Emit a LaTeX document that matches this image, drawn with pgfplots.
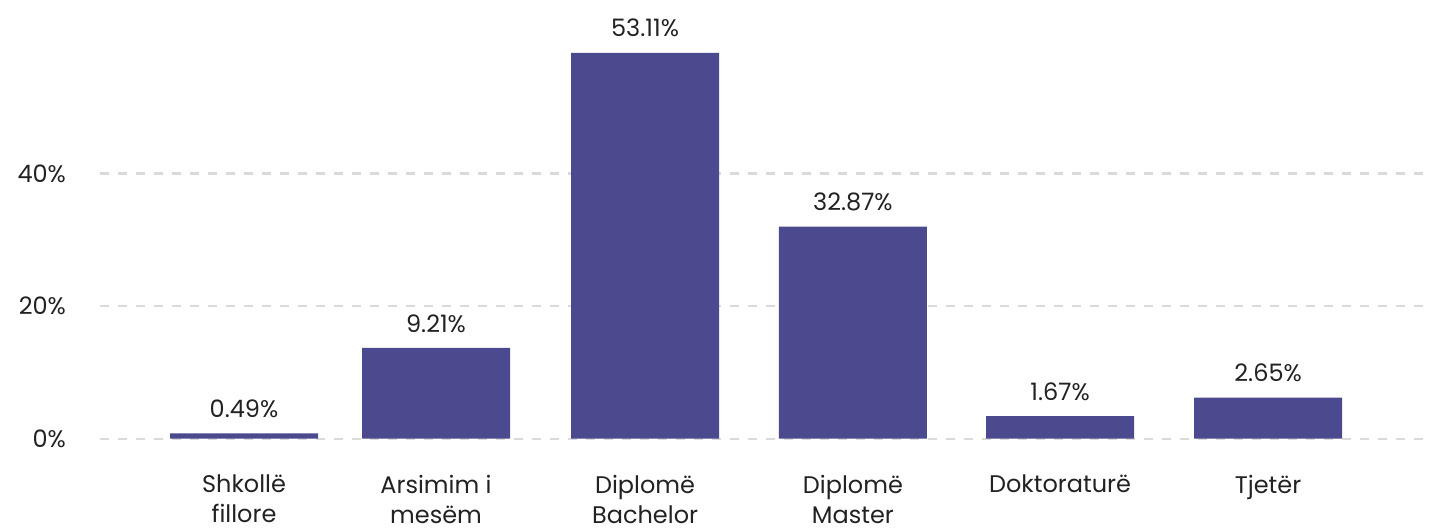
\documentclass[border=0pt]{standalone}
\usepackage{fontspec}
\setmainfont{Poppins}
\usepackage{pgfplots}
\pgfplotsset{compat=1.18}
\definecolor{barblue}{RGB}{75,74,143}
\definecolor{txt}{RGB}{34,34,34}
\definecolor{gridgray}{RGB}{218,218,218}

\begin{document}
\begin{tikzpicture}
\begin{axis}[
    scale only axis,
    width=1330pt, height=437.6pt,
    xmin=-0.693, xmax=5.707,
    ymin=0, ymax=66,
    axis line style={draw=none},
    clip=false,
    ybar, bar width=148pt,
    xtick=data,
    xticklabels={{Shkollë\\fillore},{Arsimim i\\mesëm},{Diplomë\\Bachelor},{Diplomë\\Master},{Doktoraturë},{Tjetër}},
    ytick={0,20,40},
    yticklabel={\pgfmathprintnumber{\tick}\%},
    /pgf/number format/assume math mode=true,
    ymajorgrids,
    grid style={gridgray, line width=2.2pt, dash pattern=on 9pt off 9pt},
    major tick length=0pt,
    tick style={draw=none},
    tick label style={font=\fontsize{24}{30}\selectfont, text=txt},
    xticklabel style={align=center, anchor=north, yshift=-33pt},
    yticklabel style={anchor=east, xshift=-30.5pt},
    point meta=explicit symbolic,
    nodes near coords={\pgfplotspointmeta},
    every node near coord/.append style={font=\fontsize{24}{26}\selectfont, text=txt, anchor=south, yshift=12pt},
]
% bar heights as drawn; labels are the printed values
\addplot[fill=barblue, draw=none] coordinates {
    (0,0.8)     [0.49\%]
    (0.924,13.7) [9.21\%]
    (1.930,58.2) [53.11\%]
    (2.930,32.0) [32.87\%]
    (3.927,3.4)  [1.67\%]
    (4.928,6.2)  [2.65\%]
};
\path (rel axis cs:0,0) ++(-100pt,-89.3pt) rectangle ++(1437pt,528pt);
\end{axis}
\end{tikzpicture}
\end{document}
